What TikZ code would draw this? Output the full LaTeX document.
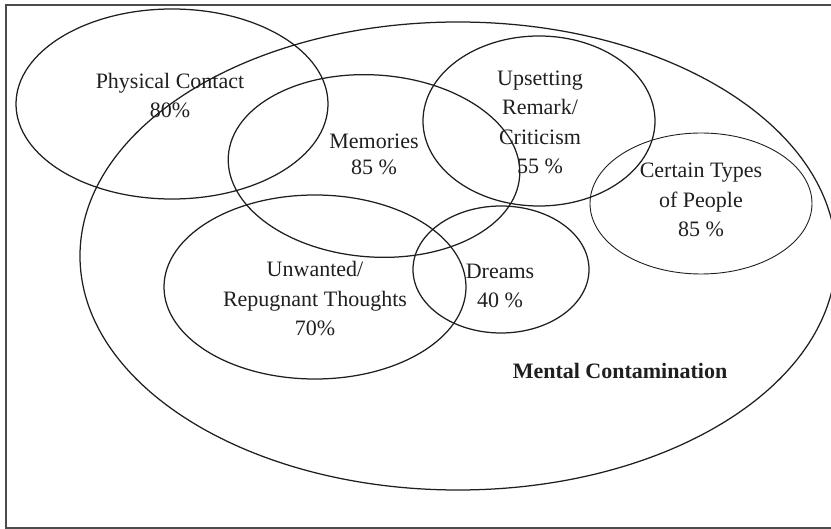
\documentclass[tikz,border=0pt]{standalone}
\usepackage{fontspec}
\setmainfont{Liberation Serif}
\begin{document}
\begin{tikzpicture}[x=1pt,y=-1pt,
  ell/.style={draw=black!88, line width=1.25pt},
  lbl/.style={align=center, inner sep=0pt, anchor=base, text=black!88,
    font=\fontsize{22}{29.5}\selectfont},
  frameline/.style={draw=black!70, line width=1.6pt}
]
\useasboundingbox (0,0) rectangle (831,529);
\draw[frameline] (831,5) -- (6,5) -- (6,528) -- (831,528);
\begin{scope}
  \clip (0,0) rectangle (831,529);
  \draw[ell] (458,256) ellipse [x radius=378, y radius=234];
\end{scope}
\draw[ell] (172,104) ellipse [x radius=156, y radius=95];
\draw[ell, rotate around={-4:(374,166)}] (374,166) ellipse [x radius=146, y radius=91];
\draw[ell] (539,121) ellipse [x radius=116, y radius=85];
\draw[ell, line width=0.9pt] (701,203.5) ellipse [x radius=111, y radius=70.5];
\draw[ell] (501,269.5) ellipse [x radius=88, y radius=63.5];
\draw[ell] (315,287) ellipse [x radius=151, y radius=92];

\node[lbl] (phys) at (170,118) {Physical Contact\\80\%};
\node[lbl, font=\fontsize{22}{26}\selectfont] (mem) at (374,175) {Memories\\85 \%};
\node[lbl] (ups) at (540,174) {Upsetting\\Remark/\\Criticism\\55 \%};
\node[lbl] (cert) at (701,237) {Certain Types\\of People\\85 \%};
\node[lbl] (dream) at (500,308) {Dreams\\40 \%};
\node[lbl] (unw) at (315,336) {Unwanted/\\Repugnant Thoughts\\70\%};
\node[lbl, font=\fontsize{22}{26}\selectfont\bfseries] (mental) at (620,379) {Mental Contamination};
\end{tikzpicture}
\end{document}
